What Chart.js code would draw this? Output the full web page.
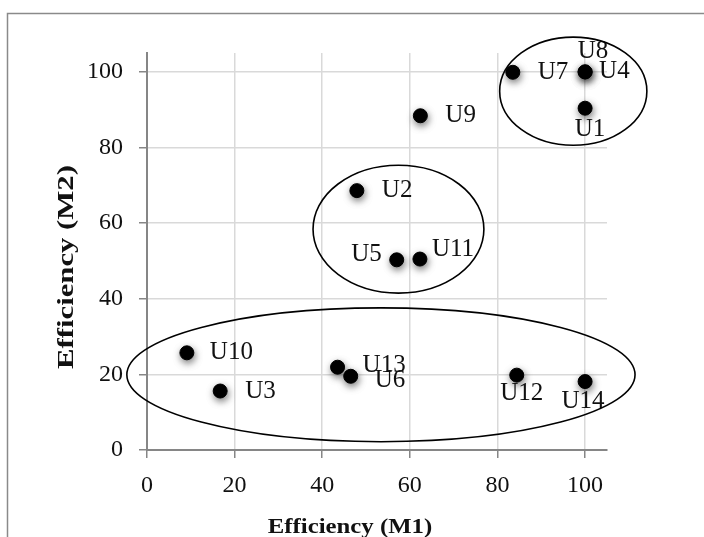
<!DOCTYPE html>
<html>
<head>
<meta charset="utf-8">
<script src="https://cdn.jsdelivr.net/npm/chart.js@4.4.1/dist/chart.umd.min.js"></script>
<style>
  html, body { margin: 0; padding: 0; background: #fff; }
  #wrap { width: 704px; height: 537px; }
</style>
</head>
<body>
<div id="wrap"><canvas id="chart"></canvas></div>
<script>
// data
const units = ["U1", "U2", "U3", "U4", "U5", "U6", "U7", "U8", "U9", "U10", "U11", "U12", "U13", "U14"];
const effM1 = [100, 47.9, 16.7, 100, 57.0, 46.5, 83.5, 100, 62.4, 9.1, 62.3, 84.4, 43.5, 100];
const effM2 = [90.4, 68.6, 15.6, 100, 50.3, 19.5, 99.9, 100, 88.4, 25.7, 50.5, 19.8, 21.9, 18.1];
const xTicks = [0, 20, 40, 60, 80, 100];
const yTicks = [0, 20, 40, 60, 80, 100];

// the three cluster rings (centre and half-axes, in axis units)
const ringX = [97.3, 57.4, 53.4];
const ringY = [94.9, 58.4, 19.9];
const ringRx = [16.8, 19.5, 58.0];
const ringRy = [14.3, 16.9, 17.7];

const serif = "'Liberation Serif', 'Times New Roman', serif";
Chart.defaults.font.family = serif;
Chart.defaults.font.size = 24;
Chart.defaults.color = "#111";

// where each name sits next to its point: [dx, dy, align]
const labelPos = {
  U1: [5, 21, "center"], U2: [25, 0, "left"], U3: [25, 0, "left"],
  U4: [14, 0, "left"], U5: [-15, -5, "right"], U6: [24, 4, "left"],
  U7: [25, 0, "left"], U8: [8, -20, "center"], U9: [25, 0, "left"],
  U10: [23, 0, "left"], U11: [12, -10, "left"], U12: [5, 18, "center"],
  U13: [25, -2, "left"], U14: [-2, 20, "center"]
};

const framePlugin = {
  id: "frame",
  beforeDraw(chart) {
    const ctx = chart.ctx;
    ctx.save();
    ctx.fillStyle = "#fff";
    ctx.fillRect(0, 0, chart.width, chart.height);
    ctx.strokeStyle = "#8a8a8a";
    ctx.lineWidth = 1.5;
    ctx.strokeRect(7.5, 13.5, chart.width + 10, chart.height + 10);
    ctx.restore();
  }
};

const shadowPlugin = {
  id: "pointShadow",
  beforeDatasetDraw(chart) {
    const ctx = chart.ctx;
    ctx.save();
    ctx.shadowColor = "rgba(0,0,0,0.5)";
    ctx.shadowBlur = 7;
    ctx.shadowOffsetX = 1;
    ctx.shadowOffsetY = 3;
  },
  afterDatasetDraw(chart) {
    chart.ctx.restore();
  }
};

const namePlugin = {
  id: "names",
  afterDatasetsDraw(chart) {
    const ctx = chart.ctx;
    const meta = chart.getDatasetMeta(0);
    ctx.save();
    ctx.font = "25px " + serif;
    ctx.fillStyle = "#111";
    ctx.textBaseline = "middle";
    meta.data.forEach((pt, i) => {
      const p = labelPos[units[i]];
      ctx.textAlign = p[2];
      ctx.fillText(units[i], pt.x + p[0], pt.y + p[1]);
    });
    ctx.restore();
  }
};

const ringPlugin = {
  id: "rings",
  afterDraw(chart) {
    const ctx = chart.ctx;
    const xs = chart.scales.x, ys = chart.scales.y;
    ctx.save();
    ctx.strokeStyle = "#000";
    ctx.lineWidth = 1.6;
    for (let i = 0; i < ringX.length; i++) {
      const cx = xs.getPixelForValue(ringX[i]);
      const cy = ys.getPixelForValue(ringY[i]);
      const rx = Math.abs(xs.getPixelForValue(ringX[i] + ringRx[i]) - cx);
      const ry = Math.abs(ys.getPixelForValue(ringY[i] + ringRy[i]) - cy);
      ctx.beginPath();
      ctx.ellipse(cx, cy, rx, ry, 0, 0, Math.PI * 2);
      ctx.stroke();
    }
    // axis titles, drawn wide like the original
    ctx.fillStyle = "#111";
    ctx.textAlign = "center";
    ctx.textBaseline = "alphabetic";
    ctx.save();
    ctx.translate(350, 533);
    ctx.scale(1.18, 1);
    ctx.font = "bold 21px " + serif;
    ctx.fillText("Efficiency (M1)", 0, 0);
    ctx.restore();
    ctx.translate(73, 267);
    ctx.rotate(-Math.PI / 2);
    ctx.scale(1.28, 1);
    ctx.font = "bold 24px " + serif;
    ctx.fillText("Efficiency (M2)", 0, 0);
    ctx.restore();
  }
};

new Chart(document.getElementById("chart"), {
  type: "scatter",
  data: {
    datasets: [{
      label: "Units",
      data: effM1.map((v, i) => ({ x: v, y: effM2[i] })),
      backgroundColor: "#000",
      borderColor: "#000",
      pointRadius: 7,
      pointHoverRadius: 7
    }]
  },
  options: {
    responsive: true,
    maintainAspectRatio: false,
    animation: false,
    layout: { padding: { top: 53, right: 97, left: 0, bottom: 0 } },
    plugins: { legend: { display: false }, tooltip: { enabled: false } },
    scales: {
      x: {
        type: "linear",
        min: 0,
        max: 105,
        afterBuildTicks: s => { s.ticks = xTicks.map(v => ({ value: v })); },
        afterFit: s => { s.height = 87; s.paddingLeft = 0; s.paddingRight = 0; },
        ticks: { font: { family: serif, size: 24 }, color: "#111", padding: 13, maxRotation: 0 },
        grid: { color: "#d9d9d9", lineWidth: 1.5, tickColor: "#868686", tickLength: 8 },
        border: { color: "#868686", width: 2 }
      },
      y: {
        type: "linear",
        min: 0,
        max: 105,
        afterBuildTicks: s => { s.ticks = yTicks.map(v => ({ value: v })); },
        afterFit: s => { s.width = 147; s.paddingTop = 0; s.paddingBottom = 0; },
        ticks: { font: { family: serif, size: 24 }, color: "#111", padding: 16 },
        grid: { color: "#d9d9d9", lineWidth: 1.5, tickColor: "#868686", tickLength: 8 },
        border: { color: "#868686", width: 2 }
      }
    }
  },
  plugins: [framePlugin, shadowPlugin, namePlugin, ringPlugin]
});
</script>
</body>
</html>
